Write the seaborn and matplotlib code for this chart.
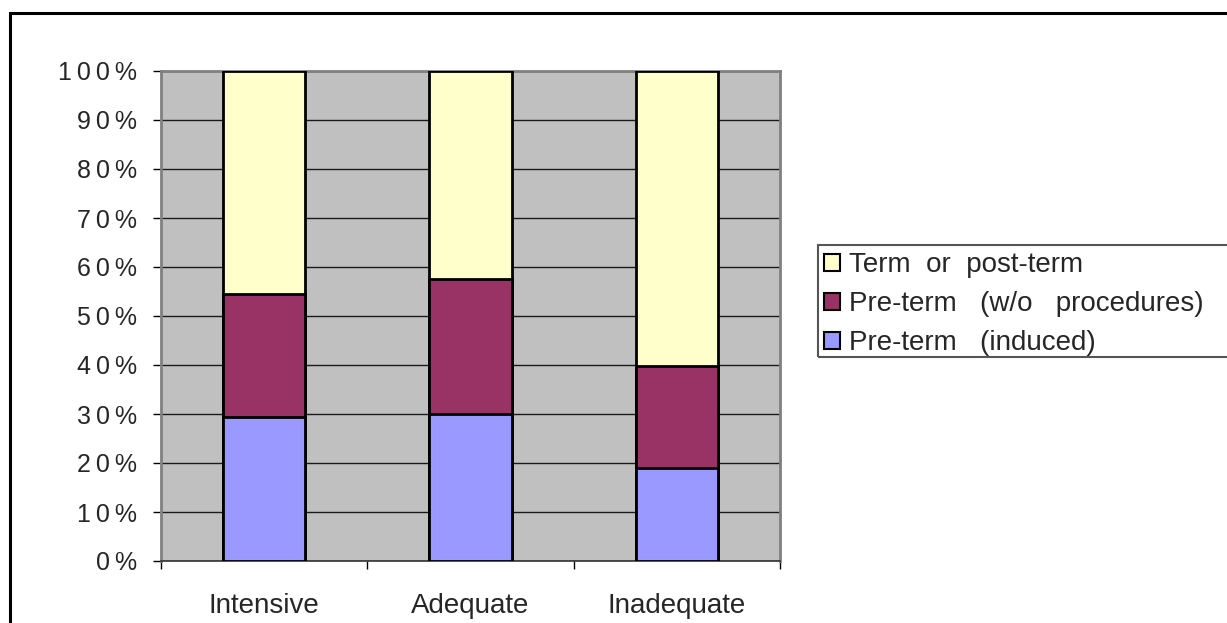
import matplotlib
matplotlib.use("Agg")
import matplotlib.pyplot as plt
from matplotlib.patches import Rectangle, Patch
from matplotlib.ticker import FuncFormatter, FixedLocator
import seaborn as sns
import pandas as pd
import numpy as np

# Share of deliveries (%) by level of prenatal care
care_levels = ["Intensive", "Adequate", "Inadequate"]
preterm_induced = [29.3, 29.9, 18.9]
preterm_no_procedures = [25.1, 27.7, 20.8]
term_or_postterm = [45.6, 42.4, 60.3]

series_names = ["Term  or  post-term", "Pre-term   (w/o   procedures)", "Pre-term   (induced)"]
series_colors = ["#FFFFCC", "#993366", "#9999FF"]

sns.set_style("ticks")
plt.rcParams["font.family"] = ["Liberation Sans", "DejaVu Sans"]

df = pd.DataFrame({
    "care": care_levels,
    "induced": preterm_induced,
    "no_proc": preterm_no_procedures,
    "term": term_or_postterm,
})
# cumulative tops for the stacked layers (drawn back to front)
df["top_term"] = df["induced"] + df["no_proc"] + df["term"]
df["top_no_proc"] = df["induced"] + df["no_proc"]
df["top_induced"] = df["induced"]

fig = plt.figure(figsize=(12.27, 6.23), dpi=100)
W, H = 1227, 623
ax = fig.add_axes([161 / W, 1 - 561 / H, (780 - 161) / W, 490 / H])
ax.set_facecolor("#C0C0C0")

for col, color in zip(["top_term", "top_no_proc", "top_induced"], series_colors):
    sns.barplot(data=df, x="care", y=col, color=color, width=0.4,
                edgecolor="black", linewidth=2.0, saturation=1, ax=ax,
                errorbar=None, zorder=3)

ax.set_xlim(-0.5, 2.5)
ax.set_ylim(0, 100)
ax.set_xlabel("")
ax.set_ylabel("")

ax.yaxis.set_major_locator(FixedLocator(np.arange(0, 101, 10)))
ax.yaxis.set_major_formatter(FuncFormatter(lambda v, p: "\u2009".join(f"{int(round(v))}%")))
ax.grid(axis="y", color="#1a1a1a", linewidth=1.0, zorder=1)
ax.grid(axis="x", visible=False)
ax.set_axisbelow(True)

# category labels centered under bars, tick marks at category boundaries
ax.set_xticks([0, 1, 2])
ax.set_xticklabels(care_levels)
ax.tick_params(axis="x", length=0, pad=23, labelsize=20)
ax.set_xticks([-0.5, 0.5, 1.5, 2.5], minor=True)
ax.tick_params(axis="x", which="minor", length=6, width=1, color="black", direction="out")
ax.tick_params(axis="y", length=6, width=1, color="black", pad=11, labelsize=18, direction="out")

for side in ["left", "right", "top"]:
    ax.spines[side].set_color("#808080")
    ax.spines[side].set_linewidth(2)
ax.spines["bottom"].set_color("#333333")
ax.spines["bottom"].set_linewidth(1.2)

# legend
handles = [Patch(facecolor=c, edgecolor="black", linewidth=1.5) for c in series_colors]
leg = fig.legend(handles, series_names, loc="upper left",
                 bbox_to_anchor=(824 / W, 1 - 252 / H), frameon=False,
                 fontsize=20, handlelength=0.58, handleheight=0.58,
                 handletextpad=0.32, labelspacing=0.475, borderaxespad=0,
                 borderpad=0)
fig.add_artist(Rectangle((818 / W, 1 - 357 / H), (1260 - 818) / W, (357 - 245) / H,
                         transform=fig.transFigure, fill=False,
                         edgecolor="#555555", linewidth=1.5, clip_on=False))

# outer chart border
fig.add_artist(Rectangle((10 / W, -20 / H), (1260 - 10) / W, (623 - 13 + 20) / H,
                         transform=fig.transFigure, fill=False,
                         edgecolor="black", linewidth=2.2, clip_on=False))

fig.savefig("out.png", dpi=100, facecolor="white")
